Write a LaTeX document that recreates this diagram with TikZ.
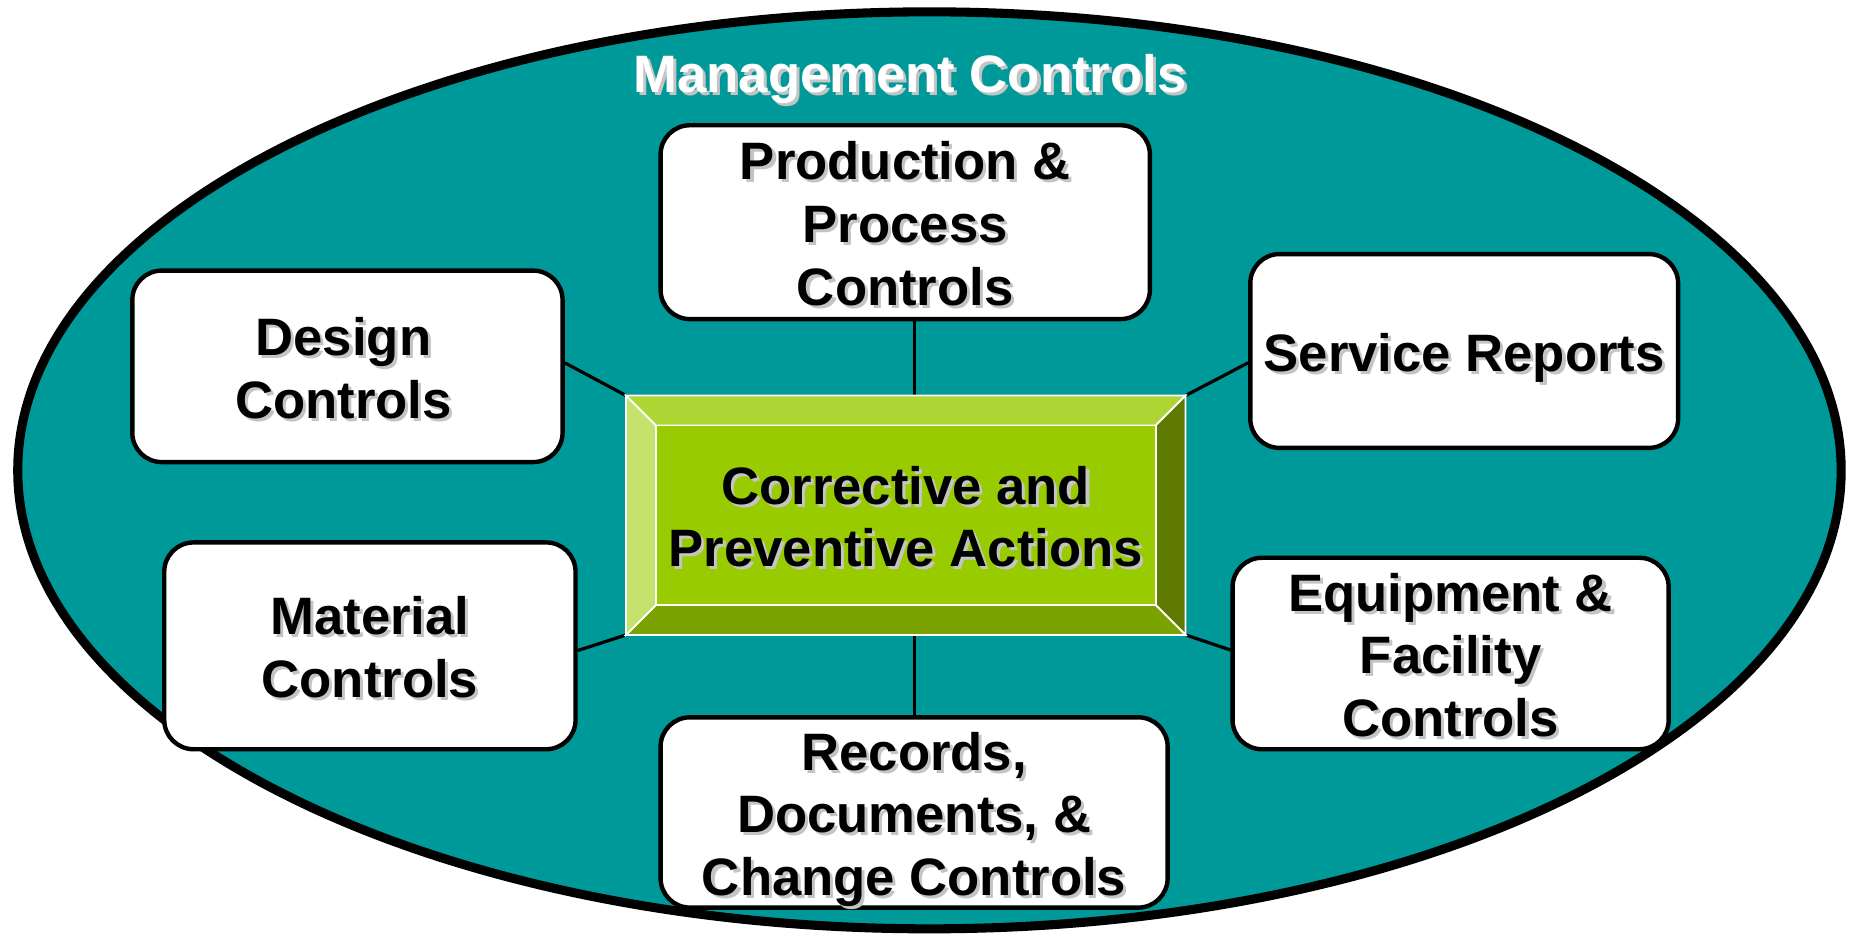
\documentclass[tikz,border=0pt]{standalone}
\usepackage{fontspec}
\setmainfont{Liberation Sans}
\usetikzlibrary{shapes.geometric}
\definecolor{tealfill}{HTML}{009999}
\definecolor{shadowgray}{HTML}{C4C4C4}
\definecolor{bevtop}{HTML}{AED634}
\definecolor{bevleft}{HTML}{C5E26C}
\definecolor{bevright}{HTML}{5E7A00}
\definecolor{bevbottom}{HTML}{7AA300}
\definecolor{bevface}{HTML}{99CC00}
\newcommand\sh[2][black]{\rlap{\kern2.3pt\raisebox{-2.3pt}{\color{shadowgray}\begin{tabular}[b]{@{}c@{}}#2\end{tabular}}}{\color{#1}\begin{tabular}[b]{@{}c@{}}#2\end{tabular}}}
\tikzset{
  ctrlbox/.style={draw=black, line width=3.3pt, fill=white, rounded corners=22pt, inner sep=0pt},
  lbl/.style={inner sep=0pt, font=\fontsize{39.5pt}{47pt}\selectfont\bfseries, yshift=-7pt},
  link/.style={draw=black, line width=2.4pt},
  bevel/.style={draw=white, line width=1.3pt, line join=miter}
}
\begin{document}
\begin{tikzpicture}[x=0.8864pt,y=-0.8864pt]
\useasboundingbox (0,0) rectangle (1568,795);
% outer ellipse
\node[ellipse, draw=black, line width=6.8pt, fill=tealfill, inner sep=0pt,
      minimum width=1367.7pt, minimum height=687.8pt] (mgmt) at (786.5,398) {};
\node[inner sep=0pt, anchor=base, font=\fontsize{39.5pt}{47pt}\selectfont\bfseries] (mgmtT) at (770,78) {\sh[white]{Management Controls}};
% boxes
\node[ctrlbox, minimum width=367pt, minimum height=145.4pt] (prod) at (766,188) {};
\node[ctrlbox, minimum width=322.7pt, minimum height=143.6pt] (design) at (294,310) {};
\node[ctrlbox, minimum width=320.9pt, minimum height=145.4pt] (service) at (1239,297) {};
\node[ctrlbox, minimum width=308.5pt, minimum height=155.1pt] (material) at (313,546.5) {};
\node[ctrlbox, minimum width=327.1pt, minimum height=143.6pt] (equip) at (1227.5,553) {};
\node[ctrlbox, minimum width=380.3pt, minimum height=142.7pt] (records) at (773.5,687.5) {};
% central bevel box (shape)
\node[inner sep=0pt, minimum width=419.3pt, minimum height=179.1pt] (cap) at (766.5,436) {};
% connectors
\draw[link] (records.north |- prod.south) -- (records.north);
\draw[link] (design.east) ++(0,-3) -- (cap.north west);
\draw[link] (service.west) ++(0,10) -- (cap.north east);
\draw[link] (material.east) ++(0,4) -- (cap.south west);
\draw[link] (equip.west) ++(0,-3) -- (cap.south east);
% bevel
\coordinate (i1) at (555,360);
\coordinate (i2) at (978,360);
\coordinate (i3) at (978,512);
\coordinate (i4) at (555,512);
\filldraw[bevel, fill=bevtop] (cap.north west) -- (cap.north east) -- (i2) -- (i1) -- cycle;
\filldraw[bevel, fill=bevright] (cap.north east) -- (cap.south east) -- (i3) -- (i2) -- cycle;
\filldraw[bevel, fill=bevbottom] (cap.south east) -- (cap.south west) -- (i4) -- (i3) -- cycle;
\filldraw[bevel, fill=bevleft] (cap.south west) -- (cap.north west) -- (i1) -- (i4) -- cycle;
\filldraw[bevel, fill=bevface] (i1) rectangle (i3);
% labels
\node[lbl] (prodT) at (prod.center) {\sh{Production \&\\Process\\Controls}};
\node[lbl, xshift=-3pt] (designT) at (design.center) {\sh{Design\\Controls}};
\node[lbl] (serviceT) at (service.center) {\sh{Service Reports}};
\node[lbl] (materialT) at (material.center) {\sh{Material\\Controls}};
\node[lbl] (equipT) at (equip.center) {\sh{Equipment \&\\Facility\\Controls}};
\node[lbl] (recordsT) at (records.center) {\sh{Records,\\Documents, \&\\Change Controls}};
\node[lbl] (capT) at (cap.center) {\sh{Corrective and\\Preventive Actions}};
\end{tikzpicture}
\end{document}
